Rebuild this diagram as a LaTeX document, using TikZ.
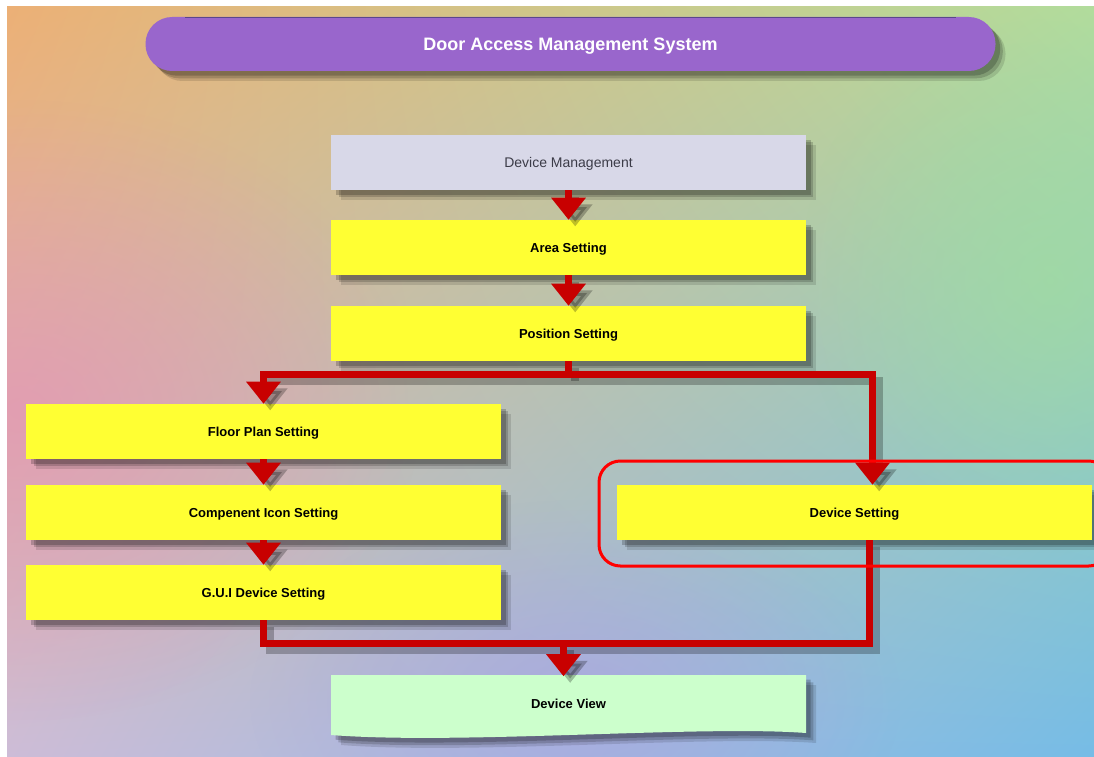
\documentclass[tikz,border=0pt]{standalone}
\usepackage{fontspec}
\setmainfont{Liberation Sans}
\usetikzlibrary{arrows.meta,shadows,calc,fadings,shadings}
\tikzfading[name=softspot,inner color=transparent!0,outer color=transparent!100]
\definecolor{titlepurple}{RGB}{153,102,204}
\definecolor{titleedge}{RGB}{90,70,140}
\definecolor{boxyellow}{RGB}{255,255,51}
\definecolor{boxgray}{RGB}{216,216,232}
\definecolor{boxgreen}{RGB}{204,255,204}
\definecolor{connred}{RGB}{200,0,0}
\definecolor{framered}{RGB}{255,0,0}
\definecolor{bgpink}{RGB}{228,150,180}
\definecolor{bggreen}{RGB}{160,220,160}
\definecolor{bglav}{RGB}{175,160,225}
\definecolor{dmtext}{RGB}{60,60,72}
\definecolor{bgul}{RGB}{236,176,118}
\definecolor{bgur}{RGB}{178,220,156}
\definecolor{bgll}{RGB}{205,188,215}
\definecolor{bglr}{RGB}{118,188,230}
\begin{document}
\begin{tikzpicture}[x=0.75pt,y=-0.75pt,
  boxshadow/.style={
     drop shadow={shadow xshift=3.5pt,shadow yshift=-3.5pt,opacity=.2,fill=black},
     drop shadow={shadow xshift=5.5pt,shadow yshift=-5.5pt,opacity=.17,fill=black},
     drop shadow={shadow xshift=7.5pt,shadow yshift=-7.5pt,opacity=.12,fill=black}},
  boxtext/.style={inner sep=0pt,text height=7pt,text depth=0pt,
     font=\fontsize{9.75}{12}\selectfont\bfseries,text=black},
  stepbox/.style={rectangle,minimum width=356pt,minimum height=41.25pt,
     fill=boxyellow,boxshadow,boxtext},
  textonly/.style={rectangle,minimum width=356pt,minimum height=41.25pt,boxtext},
  titlebox/.style={rectangle,rounded corners=20pt,minimum width=637.5pt,minimum height=40.5pt,
     inner sep=0pt,text height=9.7pt,text depth=0pt,fill=titlepurple,boxshadow,text=white,
     font=\fontsize{13.5}{16}\selectfont\bfseries},
  conn/.style={draw=connred,line width=5.25pt},
  tip/.style={-{Triangle[width=25pt,length=16.5pt]}}
]
\useasboundingbox (0,0) rectangle (1094,756);
\fill[white] (0,0) rectangle (1094,756);
\begin{scope}
\clip (7,7) rectangle (1094,756);
\shade[upper left=bgul,upper right=bgur,lower left=bgll,lower right=bglr] (7,7) rectangle (1094,756);
\fill[bgpink,opacity=0.75,path fading=softspot] (-380,100) rectangle (420,720);
\fill[bggreen,opacity=0.7,path fading=softspot] (800,0) rectangle (1300,560);
\fill[bglav,opacity=0.6,path fading=softspot] (250,500) rectangle (900,900);
\end{scope}

% title
\node[titlebox] (title) at (570.5,44) {Door Access Management System};
\draw[titleedge,line width=1pt] ($(title.north west)+(40,0.5)$) -- ($(title.north east)+(-40,0.5)$);

% boxes
\node[stepbox,fill=boxgray,text=dmtext,font=\fontsize{10.5}{12}\selectfont] (dm) at (568.5,162.5) {Device Management};
\node[stepbox] (as) at (568.5,247.5) {Area Setting};
\node[stepbox] (ps) at (568.5,333.5) {Position Setting};
\node[stepbox] (fp) at (263.5,431.5) {Floor Plan Setting};
\node[stepbox] (ci) at (263.5,512.5) {Compenent Icon Setting};
\node[stepbox] (gui) at (263.5,592.5) {G.U.I Device Setting};
\node[stepbox] (ds) at (854.5,512.5) {Device Setting};
\path[fill=boxgreen,boxshadow] (331,675) -- (806,675) -- (806,733)
   .. controls (700,725) and (460,745) .. (331,735) -- cycle;
\node[textonly] (dv) at (568.5,704) {Device View};

% junctions
\coordinate (j1) at ($(ps.south)+(0,13)$);
\coordinate (dsn) at ($(ds.north)+(18,0)$);
\coordinate (dss) at ($(ds.south)+(15,0)$);
\coordinate (j2) at ($(dv.north)+(-5,-33)$);

\newcommand\connectorpaths{%
  \path[conn,tip] (dm.south) -- (as.north);
  \path[conn,tip] (as.south) -- (ps.north);
  \path[conn] (ps.south) -- (j1);
  \path[conn,tip] (j1) -| (fp.north);
  \path[conn,tip] (j1) -| (dsn);
  \path[conn,tip] (fp.south) -- (ci.north);
  \path[conn,tip] (ci.south) -- (gui.north);
  \path[conn] (gui.south) |- (j2) -| (dss);
  \path[conn,tip] (j2) -- (j2 |- dv.north);
}
\begin{scope}[transform canvas={xshift=5pt,yshift=-5pt},
   conn/.style={draw=black,line width=6pt,opacity=0.25}]
\connectorpaths
\end{scope}
\connectorpaths

% highlight frame
\draw[framered,line width=2.25pt,rounded corners=16pt] (599,461) rectangle (1110,566);
\end{tikzpicture}
\end{document}
